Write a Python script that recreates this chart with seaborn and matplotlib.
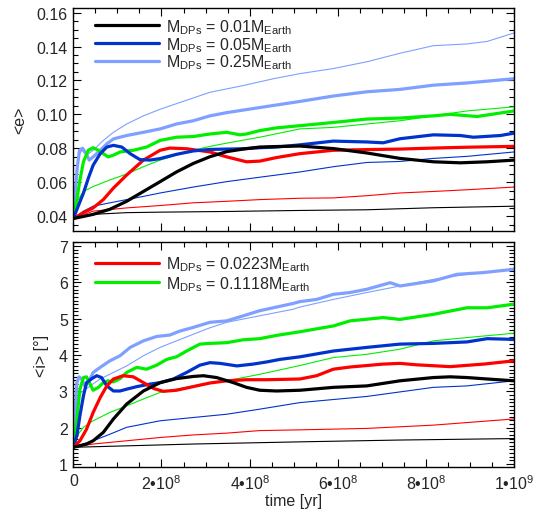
import numpy as np
import matplotlib
matplotlib.use('Agg')
import matplotlib.pyplot as plt
import seaborn as sns
from matplotlib.ticker import MultipleLocator, FixedLocator, FuncFormatter
from matplotlib.lines import Line2D

sns.set_theme(style='ticks')
plt.rcParams['font.family'] = ['Liberation Sans', 'DejaVu Sans']
plt.rcParams['mathtext.fontset'] = 'custom'
plt.rcParams['mathtext.rm'] = 'Liberation Sans'
plt.rcParams['mathtext.it'] = 'Liberation Sans:italic'
plt.rcParams['mathtext.bf'] = 'Liberation Sans:bold'

# ---------------- data (time in units of 1e8 yr) ----------------
# top panel: <e>
t_e_k_thick = [0, 0.45, 0.83, 1.21, 1.59, 1.97, 2.34, 2.72, 3.10, 3.48, 3.85, 4.23, 4.61, 5.14, 5.90, 6.66, 7.41, 8.17, 8.78, 9.39, 10]
e_k_thick = [0.0385, 0.041, 0.044, 0.0487, 0.0545, 0.0603, 0.066, 0.071, 0.075, 0.078, 0.0795, 0.0807, 0.081, 0.0813, 0.0798, 0.0772, 0.0740, 0.0720, 0.0714, 0.0720, 0.0730]
t_e_k_thin = [0, 0.45, 1.21, 1.97, 2.72, 3.48, 5.14, 6.66, 8.17, 10]
e_k_thin = [0.0385, 0.041, 0.042, 0.0423, 0.0425, 0.0427, 0.0433, 0.0437, 0.0449, 0.0458]

t_e_r_thick = [0, 0.23, 0.45, 0.68, 0.91, 1.21, 1.59, 1.97, 2.19, 2.57, 3.10, 3.48, 3.93, 4.23, 4.61, 5.14, 5.90, 6.66, 7.41, 8.17, 8.93, 10]
e_r_thick = [0.0385, 0.042, 0.0448, 0.0497, 0.0565, 0.0642, 0.073, 0.0788, 0.0801, 0.0797, 0.0778, 0.0749, 0.072, 0.0724, 0.0745, 0.0768, 0.0788, 0.0792, 0.0795, 0.0801, 0.0806, 0.0811]
t_e_r_thin = [0, 0.45, 1.21, 1.97, 2.72, 3.48, 4.23, 5.14, 5.90, 6.66, 7.41, 8.17, 8.93, 10]
e_r_thin = [0.0385, 0.0429, 0.0448, 0.0462, 0.0478, 0.0487, 0.0497, 0.0505, 0.0507, 0.052, 0.0536, 0.0545, 0.0555, 0.0571]

t_e_b_thick = [0, 0.11, 0.23, 0.34, 0.45, 0.61, 0.76, 0.91, 1.10, 1.29, 1.51, 1.74, 1.97, 2.34, 2.72, 3.10, 3.48, 3.86, 4.23, 4.61, 5.14, 5.90, 6.66, 7.03, 7.41, 8.17, 8.78, 9.08, 9.69, 10]
e_b_thick = [0.0385, 0.0458, 0.0536, 0.0623, 0.070, 0.0768, 0.0807, 0.0817, 0.0807, 0.0768, 0.0733, 0.073, 0.0739, 0.0764, 0.0784, 0.0793, 0.0795, 0.0797, 0.0803, 0.0807, 0.082, 0.0842, 0.0837, 0.0832, 0.0856, 0.0879, 0.0875, 0.0865, 0.0875, 0.0889]
t_e_b_thin = [0, 0.23, 0.45, 0.83, 1.21, 1.59, 1.97, 2.72, 3.48, 4.23, 5.14, 5.90, 6.66, 7.41, 8.17, 8.93, 10]
e_b_thin = [0.0385, 0.0429, 0.0458, 0.0478, 0.0497, 0.0516, 0.0536, 0.0571, 0.0603, 0.0629, 0.066, 0.0691, 0.0716, 0.0722, 0.0740, 0.0752, 0.0778]

t_e_g_thick = [0, 0.08, 0.15, 0.23, 0.34, 0.45, 0.57, 0.68, 0.79, 0.91, 1.06, 1.36, 1.66, 1.97, 2.34, 2.72, 3.10, 3.48, 3.78, 3.93, 4.23, 4.61, 5.14, 5.90, 6.66, 7.41, 8.17, 8.55, 9.16, 10]
e_g_thick = [0.0385, 0.0497, 0.0613, 0.072, 0.0788, 0.0803, 0.0788, 0.0768, 0.0749, 0.0759, 0.0778, 0.0788, 0.0807, 0.0846, 0.0865, 0.0869, 0.0884, 0.0894, 0.0879, 0.0884, 0.0904, 0.092, 0.0933, 0.0952, 0.0972, 0.0978, 0.0991, 0.1000, 0.0987, 0.1020]
t_e_g_thin = [0, 0.11, 0.23, 0.45, 0.83, 1.21, 1.59, 1.97, 2.34, 2.72, 3.10, 3.48, 4.23, 5.14, 5.90, 6.66, 7.41, 8.17, 8.93, 10]
e_g_thin = [0.0385, 0.0497, 0.0545, 0.0574, 0.0613, 0.0648, 0.0691, 0.073, 0.0759, 0.0788, 0.0811, 0.083, 0.0865, 0.0914, 0.0923, 0.0943, 0.0962, 0.0991, 0.102, 0.1044]

t_e_lb_thick = [0, 0.04, 0.09, 0.14, 0.21, 0.29, 0.36, 0.45, 0.61, 0.76, 0.91, 1.21, 1.59, 1.97, 2.34, 2.72, 3.10, 3.48, 4.23, 5.14, 5.90, 6.66, 7.41, 8.17, 8.93, 10]
e_lb_thick = [0.0385, 0.0536, 0.069, 0.0788, 0.080, 0.0768, 0.073, 0.0749, 0.0788, 0.0826, 0.0855, 0.0875, 0.0894, 0.0914, 0.0943, 0.0962, 0.0991, 0.101, 0.104, 0.1076, 0.1108, 0.1133, 0.1147, 0.1172, 0.1185, 0.1210]
t_e_lb_thin = [0, 0.06, 0.11, 0.19, 0.30, 0.45, 0.68, 0.91, 1.21, 1.59, 1.97, 2.42, 3.10, 3.86, 4.54, 5.14, 5.90, 6.66, 7.41, 8.17, 8.93, 9.39, 10]
e_lb_thin = [0.0385, 0.0594, 0.075, 0.0788, 0.0759, 0.0788, 0.0846, 0.0894, 0.0943, 0.0991, 0.103, 0.107, 0.113, 0.117, 0.121, 0.124, 0.127, 0.131, 0.136, 0.1405, 0.1415, 0.143, 0.148]

# bottom panel: <i> [deg]
t_i_k_thick = [0, 0.30, 0.45, 0.68, 0.91, 1.21, 1.59, 1.97, 2.34, 2.72, 2.95, 3.25, 3.63, 3.93, 4.23, 4.61, 5.14, 5.90, 6.66, 7.41, 8.17, 8.55, 8.93, 9.39, 10]
i_k_thick = [1.46, 1.55, 1.64, 1.87, 2.24, 2.65, 3.01, 3.24, 3.35, 3.41, 3.43, 3.38, 3.24, 3.11, 3.03, 3.01, 3.03, 3.11, 3.15, 3.29, 3.38, 3.40, 3.38, 3.34, 3.29]
t_i_k_thin = [0, 1.21, 2.72, 5.14, 7.41, 10]
i_k_thin = [1.46, 1.50, 1.55, 1.61, 1.66, 1.70]

t_i_r_thick = [0, 0.15, 0.30, 0.45, 0.61, 0.76, 0.91, 1.13, 1.36, 1.59, 1.82, 2.04, 2.34, 2.72, 3.10, 3.48, 3.93, 4.39, 5.14, 5.52, 5.90, 6.28, 7.03, 7.41, 7.79, 8.55, 9.31, 10]
i_r_thick = [1.46, 1.64, 1.96, 2.42, 2.83, 3.15, 3.34, 3.43, 3.40, 3.24, 3.08, 3.00, 3.03, 3.13, 3.23, 3.29, 3.32, 3.32, 3.34, 3.43, 3.61, 3.67, 3.75, 3.77, 3.73, 3.68, 3.75, 3.84]
t_i_r_thin = [0, 0.45, 1.21, 1.97, 2.72, 3.48, 4.23, 5.14, 6.66, 8.17, 10]
i_r_thin = [1.46, 1.55, 1.64, 1.73, 1.80, 1.85, 1.92, 1.94, 1.98, 2.07, 2.24]

t_i_b_thick = [0, 0.08, 0.15, 0.23, 0.30, 0.42, 0.53, 0.64, 0.76, 0.91, 1.06, 1.21, 1.44, 1.74, 1.97, 2.27, 2.57, 2.87, 3.10, 3.33, 3.71, 4.08, 4.39, 4.69, 5.14, 5.90, 6.66, 7.41, 8.17, 8.93, 9.39, 10]
i_b_thick = [1.46, 1.78, 2.33, 2.88, 3.24, 3.35, 3.43, 3.38, 3.15, 3.01, 3.01, 3.06, 3.13, 3.20, 3.24, 3.34, 3.52, 3.72, 3.79, 3.77, 3.70, 3.75, 3.81, 3.88, 3.95, 4.11, 4.21, 4.30, 4.32, 4.36, 4.45, 4.43]
t_i_b_thin = [0, 0.45, 0.83, 1.21, 1.59, 1.97, 2.72, 3.48, 4.23, 5.14, 6.66, 8.17, 8.93, 10]
i_b_thin = [1.46, 1.64, 1.82, 2.01, 2.10, 2.19, 2.28, 2.37, 2.51, 2.69, 2.86, 3.11, 3.15, 3.29]

t_i_g_thick = [0, 0.08, 0.15, 0.23, 0.30, 0.38, 0.45, 0.57, 0.68, 0.79, 0.91, 1.06, 1.21, 1.44, 1.66, 1.89, 2.12, 2.34, 2.57, 2.87, 3.10, 3.48, 3.86, 4.23, 4.61, 5.14, 5.90, 6.28, 7.03, 7.41, 8.17, 8.93, 9.39, 10]
i_g_thick = [1.46, 2.24, 3.06, 3.38, 3.40, 3.20, 3.03, 3.11, 3.24, 3.29, 3.26, 3.35, 3.52, 3.66, 3.61, 3.72, 3.88, 3.95, 4.11, 4.30, 4.32, 4.34, 4.42, 4.45, 4.54, 4.64, 4.80, 4.94, 5.03, 4.98, 5.12, 5.30, 5.30, 5.40]
t_i_g_thin = [0, 0.11, 0.23, 0.45, 0.83, 1.21, 1.59, 1.97, 2.34, 2.72, 3.10, 3.48, 4.23, 5.14, 5.90, 6.66, 7.41, 8.17, 8.93, 10]
i_g_thin = [1.46, 1.82, 2.01, 2.19, 2.42, 2.60, 2.79, 2.97, 3.06, 3.15, 3.24, 3.29, 3.47, 3.71, 3.93, 4.02, 4.16, 4.39, 4.48, 4.60]

t_i_lb_thick = [0, 0.04, 0.08, 0.13, 0.19, 0.26, 0.34, 0.45, 0.61, 0.83, 1.06, 1.29, 1.59, 1.89, 2.19, 2.42, 2.72, 3.10, 3.48, 3.86, 4.23, 4.61, 4.99, 5.14, 5.52, 5.90, 6.28, 6.66, 7.19, 7.41, 8.17, 8.70, 9.31, 10]
i_lb_thick = [1.46, 2.42, 3.24, 3.40, 3.34, 3.15, 3.24, 3.52, 3.66, 3.84, 3.98, 4.21, 4.39, 4.51, 4.55, 4.66, 4.76, 4.90, 4.94, 5.08, 5.22, 5.32, 5.42, 5.47, 5.53, 5.67, 5.72, 5.81, 5.99, 5.90, 6.04, 6.22, 6.27, 6.36]
t_i_lb_thin = [0, 0.06, 0.11, 0.23, 0.38, 0.61, 0.91, 1.21, 1.59, 1.97, 2.34, 2.72, 3.10, 3.48, 4.23, 4.99, 5.14, 5.90, 6.66, 7.41, 8.17, 8.93, 10]
i_lb_thin = [1.46, 2.60, 2.92, 3.01, 3.15, 3.34, 3.52, 3.70, 3.98, 4.21, 4.39, 4.57, 4.75, 4.90, 5.08, 5.26, 5.32, 5.53, 5.72, 5.90, 6.08, 6.22, 6.36]

labels_top = [r'M$_{\rm DPs}$ = 0.01M$_{\rm Earth}$',
              r'M$_{\rm DPs}$ = 0.05M$_{\rm Earth}$',
              r'M$_{\rm DPs}$ = 0.25M$_{\rm Earth}$']
labels_bot = [r'M$_{\rm DPs}$ = 0.0223M$_{\rm Earth}$',
              r'M$_{\rm DPs}$ = 0.1118M$_{\rm Earth}$']
xticks = [0, 2e8, 4e8, 6e8, 8e8, 1e9]

# ---------------- style ----------------
C_K, C_B, C_LB, C_R, C_G = '#000000', '#0033cc', '#80a0ff', '#ff0000', '#00ee00'
LW_THICK, LW_THIN = 2.3, 0.8
FS = 11.5

fig = plt.figure(figsize=(5.53, 5.10), dpi=100)
ax1 = fig.add_axes([0.1326, 0.5445, 0.797, 0.4388])
ax2 = fig.add_axes([0.1326, 0.0818, 0.797, 0.4424])


def draw(ax, t, v, color, lw):
    sns.lineplot(x=np.asarray(t) * 1e8, y=np.asarray(v), ax=ax, color=color,
                 linewidth=lw, estimator=None, sort=False)


# top panel
for t, v, c in [(t_e_k_thin, e_k_thin, C_K), (t_e_r_thin, e_r_thin, C_R),
                (t_e_b_thin, e_b_thin, C_B), (t_e_g_thin, e_g_thin, C_G),
                (t_e_lb_thin, e_lb_thin, C_LB)]:
    draw(ax1, t, v, c, LW_THIN)
draw(ax1, t_e_lb_thick, e_lb_thick, C_LB, LW_THICK)
draw(ax1, t_e_g_thick, e_g_thick, C_G, LW_THICK)
draw(ax1, t_e_r_thick, e_r_thick, C_R, LW_THICK)
draw(ax1, t_e_b_thick, e_b_thick, C_B, LW_THICK)
draw(ax1, t_e_k_thick, e_k_thick, C_K, LW_THICK)

# bottom panel
for t, v, c in [(t_i_k_thin, i_k_thin, C_K), (t_i_r_thin, i_r_thin, C_R),
                (t_i_b_thin, i_b_thin, C_B), (t_i_g_thin, i_g_thin, C_G),
                (t_i_lb_thin, i_lb_thin, C_LB)]:
    draw(ax2, t, v, c, LW_THIN)
draw(ax2, t_i_lb_thick, i_lb_thick, C_LB, LW_THICK)
draw(ax2, t_i_g_thick, i_g_thick, C_G, LW_THICK)
draw(ax2, t_i_b_thick, i_b_thick, C_B, LW_THICK)
draw(ax2, t_i_r_thick, i_r_thick, C_R, LW_THICK)
draw(ax2, t_i_k_thick, i_k_thick, C_K, LW_THICK)

h_top = [Line2D([], [], color=c, lw=LW_THICK) for c in (C_K, C_B, C_LB)]
h_bot = [Line2D([], [], color=c, lw=LW_THICK) for c in (C_R, C_G)]
for ax in (ax1, ax2):
    lg = ax.get_legend()
    if lg is not None:
        lg.remove()
ax1.legend(h_top, labels_top, loc='upper left', bbox_to_anchor=(0.05, 0.958),
           frameon=False, handlelength=4.0, handletextpad=0.4, labelspacing=-0.05,
           borderpad=0, borderaxespad=0, fontsize=FS)
ax2.legend(h_bot, labels_bot, loc='upper left', bbox_to_anchor=(0.05, 0.943),
           frameon=False, handlelength=4.0, handletextpad=0.4, labelspacing=0.05,
           borderpad=0, borderaxespad=0, fontsize=FS)


def xfmt(v, pos):
    if v == 0:
        return '0'
    p = int(np.floor(np.log10(v) + 1e-9))
    m = int(round(v / 10 ** p))
    return '%d\u2022' % m + '10$^{%d}$' % p


for ax in (ax1, ax2):
    ax.set_xlim(0, 1e9)
    ax.xaxis.set_major_locator(FixedLocator(xticks))
    ax.xaxis.set_minor_locator(MultipleLocator(5e7))
    ax.tick_params(which='both', direction='in', top=True, right=True,
                   labelsize=FS, width=0.8, color='black', pad=4)
    ax.tick_params(which='major', length=6)
    ax.tick_params(which='minor', length=3.5)
    for s in ax.spines.values():
        s.set_linewidth(1.0)
        s.set_color('black')
    ax.grid(False)

ax1.set_ylim(0.031, 0.163)
ax1.yaxis.set_major_locator(MultipleLocator(0.02))
ax1.yaxis.set_minor_locator(MultipleLocator(0.005))
ax1.yaxis.set_major_formatter(FuncFormatter(lambda v, p: '%.2f' % v))
ax1.tick_params(labelbottom=False)
ax1.set_ylabel('<e>', fontsize=FS, labelpad=7)
ax1.set_xlabel('')

ax2.set_ylim(0.91, 7.12)
ax2.yaxis.set_major_locator(MultipleLocator(1))
ax2.yaxis.set_minor_locator(MultipleLocator(0.1))
ax2.yaxis.set_major_formatter(FuncFormatter(lambda v, p: '%d' % round(v)))
ax2.xaxis.set_major_formatter(FuncFormatter(xfmt))
ax2.set_ylabel('<i> [\u00b0]', fontsize=FS, labelpad=7)
ax2.set_xlabel('time [yr]', fontsize=FS, labelpad=1)

fig.savefig('out.png', dpi=100)
